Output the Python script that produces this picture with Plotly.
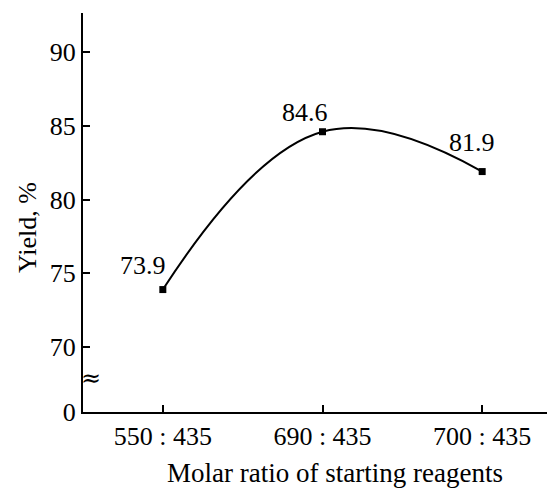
import plotly.graph_objects as go

categories = ["550 : 435", "690 : 435", "700 : 435"]
yields = [73.9, 84.6, 81.9]
ytick_vals = [65.6, 70, 75, 80, 85, 90]
ytick_text = ["0", "70", "75", "80", "85", "90"]
x_title = "Molar ratio of starting reagents"
y_title = "Yield, %"

FONT = "Liberation Serif, Times New Roman, serif"
FS = 26
xi = list(range(len(categories)))

fig = go.Figure()
fig.add_trace(go.Scatter(
    x=xi, y=yields, mode="lines+markers",
    line=dict(color="black", width=2, shape="spline", smoothing=1.2),
    marker=dict(symbol="square", size=7, color="black"),
    showlegend=False, hoverinfo="skip",
))

label_shift = [(-19.5, 24), (-17.5, 19), (-10.5, 29)]
for x, y, (dx, dy) in zip(xi, yields, label_shift):
    fig.add_annotation(x=x, y=y, text=f"{y:.1f}", showarrow=False,
                       xshift=dx, yshift=dy,
                       font=dict(family=FONT, size=FS, color="black"))

# axis-break mark
fig.add_annotation(xref="paper", yref="paper", x=-0.009, y=0.045,
                   text="≈", showarrow=False,
                   font=dict(family="DejaVu Serif", size=24, color="black"))

# axis titles placed as annotations to match the reference positions
fig.add_annotation(xref="paper", yref="paper", x=(335 - 83) / 464, y=-(473 - 412) / 399,
                   text=x_title, showarrow=False, xanchor="center", yanchor="middle",
                   font=dict(family=FONT, size=27, color="black"))
fig.add_annotation(xref="paper", yref="paper", x=(27 - 83) / 464, y=(412 - 228) / 399,
                   text=y_title, showarrow=False, textangle=-90,
                   xanchor="center", yanchor="middle",
                   font=dict(family=FONT, size=FS, color="black"))

fig.update_layout(
    width=547, height=494,
    margin=dict(l=83, r=0, t=13, b=82),
    paper_bgcolor="white", plot_bgcolor="white",
    font=dict(family=FONT, size=FS, color="black"),
    xaxis=dict(
        range=[-0.5, 2.406], tickvals=xi, ticktext=categories,
        ticks="inside", ticklen=7, tickwidth=2, tickcolor="black",
        showline=True, linecolor="black", linewidth=2,
        showgrid=False, zeroline=False, automargin=False,
        tickfont=dict(family=FONT, size=FS),
    ),
    yaxis=dict(
        range=[65.6, 92.65], tickvals=ytick_vals, ticktext=ytick_text,
        ticks="inside", ticklen=7, tickwidth=2, tickcolor="black",
        showline=True, linecolor="black", linewidth=2,
        showgrid=False, zeroline=False, automargin=False,
        tickfont=dict(family=FONT, size=FS),
    ),
)

fig.write_html("out.html", config={"displayModeBar": False},
               post_script="document.body.style.margin='0';")
